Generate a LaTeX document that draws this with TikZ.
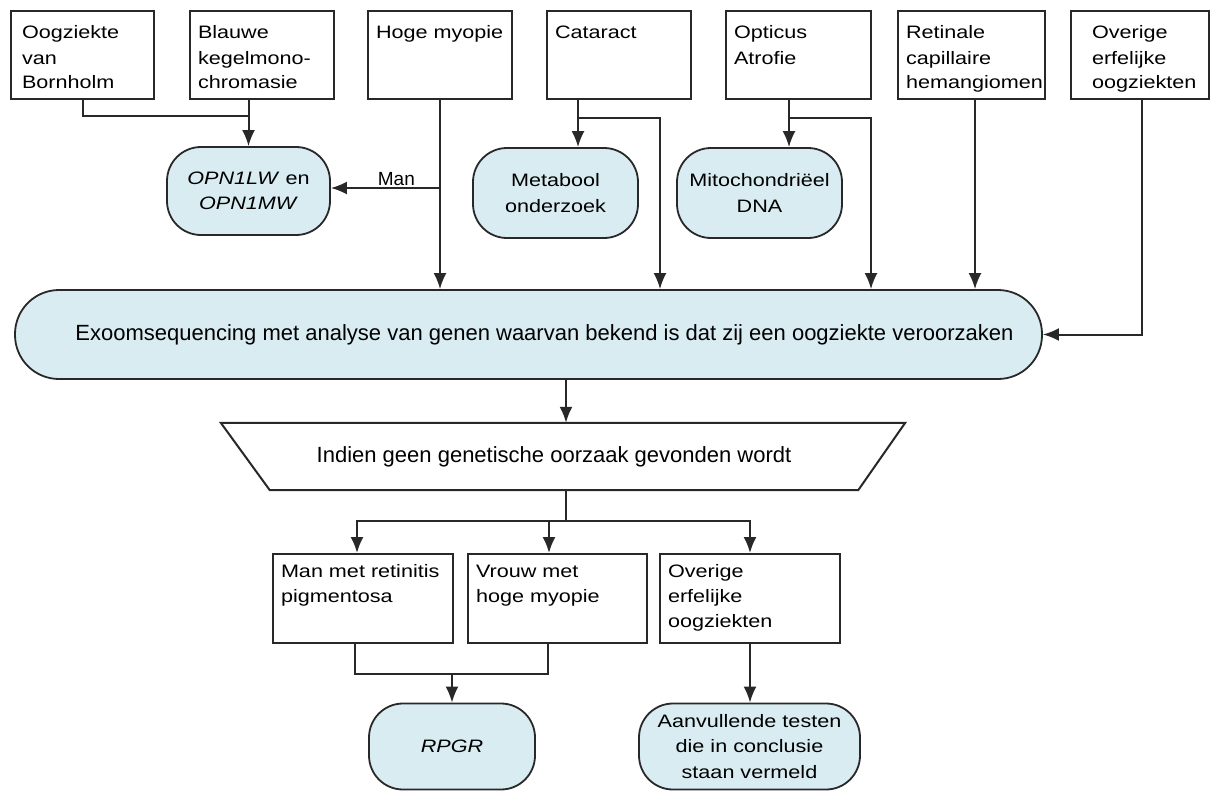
\documentclass[tikz,border=0pt]{standalone}
\usepackage{fontspec}
\setmainfont{Liberation Sans}
\newfontfamily\wfont[FakeStretch=1.2]{Liberation Sans}
\usetikzlibrary{arrows.meta,calc}
\definecolor{lb}{RGB}{216,236,242}
\definecolor{edge}{RGB}{40,40,40}
\newcommand{\tbx}[3]{\parbox[c][#1][t]{#2}{\raggedright #3}}
\begin{document}
\begin{tikzpicture}[x=1pt,y=-1pt,
  sq/.style={draw=edge, line width=2pt, fill=white, inner xsep=8pt, inner ysep=0pt, anchor=north west, font=\wfont\fontsize{18pt}{25pt}\selectfont},
  rnd/.style={draw=edge, line width=1.8pt, fill=lb, rounded corners=34pt, align=center, inner sep=0pt, font=\wfont\fontsize{18pt}{25.5pt}\selectfont},
  conn/.style={draw=edge, line width=2pt},
  arr/.style={conn, -{Latex[length=16pt,width=13pt]}},
]
\useasboundingbox (0,0) rectangle (1212,792);
% top boxes
\node[sq] (b1) at (10,10) {\tbx{88pt}{127pt}{\leftskip=3pt\rule{0pt}{28pt}Oogziekte\\van\\Bornholm}};
\node[sq] (b2) at (189,10) {\tbx{88pt}{128pt}{\rule{0pt}{28pt}Blauwe\\kegelmono-\\chromasie}};
\node[sq] (b3) at (367,10) {\tbx{88pt}{128pt}{\rule{0pt}{28pt}Hoge myopie}};
\node[sq] (b4) at (546,10) {\tbx{88pt}{128pt}{\rule{0pt}{28pt}Cataract}};
\node[sq] (b5) at (725,10) {\tbx{88pt}{129pt}{\rule{0pt}{28pt}Opticus\\Atrofie}};
\node[sq] (b6) at (897,10) {\tbx{88pt}{131pt}{\rule{0pt}{28pt}Retinale\\capillaire\\hemangiomen}};
\node[sq] (b7) at (1070,10) {\tbx{88pt}{122pt}{\leftskip=13pt\rule{0pt}{28pt}Overige\\erfelijke\\oogziekten}};
% rounded nodes
\node[rnd, minimum width=163pt, minimum height=88pt] (opn) at (248.5,191) {\textit{OPN1LW} en\\\textit{OPN1MW}};
\node[rnd, minimum width=165pt, minimum height=90pt] (met) at (555.5,193) {Metabool\\onderzoek};
\node[rnd, minimum width=165pt, minimum height=90pt] (mito) at (759.5,193) {Mitochondriëel\\DNA};
\node[rnd, rounded corners=44pt, minimum width=1027pt, minimum height=89pt, font=\fontsize{22pt}{25pt}\selectfont] (ex) at (528.5,334.5) {\hspace*{32pt}Exoomsequencing met analyse van genen waarvan bekend is dat zij een oogziekte veroorzaken};
% trapezium
\node[minimum width=684pt, minimum height=67pt, inner sep=0pt, font=\fontsize{22pt}{25pt}\selectfont] (tr) at (563,456.5) {\hspace*{-18pt}Indien geen genetische oorzaak gevonden wordt};
\draw[draw=edge, line width=2pt] (tr.north west) -- (tr.north east) -- ([xshift=-47pt]tr.south east) -- ([xshift=49pt]tr.south west) -- cycle;
% bottom boxes
\node[sq] (m1) at (272,553) {\tbx{89pt}{164pt}{\rule{0pt}{23pt}Man met retinitis\\pigmentosa}};
\node[sq] (m2) at (467,553) {\tbx{89pt}{163pt}{\rule{0pt}{23pt}Vrouw met\\hoge myopie}};
\node[sq] (m3) at (659,553) {\tbx{89pt}{164pt}{\rule{0pt}{23pt}Overige\\erfelijke\\oogziekten}};
\node[rnd, minimum width=166pt, minimum height=86pt] (rp) at (452,746.5) {\textit{RPGR}};
\node[rnd, minimum width=221pt, minimum height=86pt] (aan) at (749.5,746.5) {Aanvullende testen\\die in conclusie\\staan vermeld};
% connectors top
\draw[conn] (b1.south) |- (opn.north |- 0,116);
\draw[arr] (b2.south -| opn.north) -- (opn.north);
\draw[arr] (b3.south) -- (b3.south |- ex.north);
\coordinate (ma) at ([yshift=3pt]opn.east);
\draw[arr] (b3.south |- ma) -- node[above, pos=0.4, inner sep=1.5pt, font=\fontsize{19pt}{22pt}\selectfont] (man) {Man} (ma);
\coordinate (c4) at ([xshift=-41pt]b4.south);
\coordinate (c4r) at ([xshift=-32pt]b4.south east);
\draw[arr] (c4) -- (c4 |- met.north);
\draw[arr] ([yshift=-18pt]c4) -| (c4r |- ex.north);
\coordinate (c5) at ([xshift=-9.5pt]b5.south);
\coordinate (c5r) at ([xshift=-1pt]b5.south east);
\draw[arr] (c5) -- (c5 |- mito.north);
\draw[arr] ([yshift=-18pt]c5) -| (c5r |- ex.north);
\coordinate (c6) at ([xshift=3.5pt]b6.south);
\draw[arr] (c6) -- (c6 |- ex.north);
\draw[arr] ([xshift=2pt]b7.south) |- (ex.east);
% middle
\coordinate (e1) at ([xshift=37.5pt]ex.south);
\draw[arr] (e1) -- (e1 |- tr.north);
\coordinate (t1) at (e1 |- tr.south);
\coordinate (br) at ([yshift=-31pt]t1);
\draw[conn] (t1) -- (br);
\draw[arr] (br) -| ([xshift=-6pt]m1.north);
\draw[arr] (br) -| ([xshift=-8.5pt]m2.north);
\draw[arr] (br) -| (m3.north);
% bottom
\coordinate (ja) at ([xshift=-8pt,yshift=-30pt]m1.south);
\coordinate (jb) at ([xshift=-9.5pt,yshift=-30pt]m2.south);
\draw[conn] ([xshift=-8pt]m1.south) -- (ja) -- (jb) -- ([xshift=-9.5pt]m2.south);
\draw[arr] (ja -| rp.north) -- (rp.north);
\draw[arr] (m3.south |- m3.south) -- (m3.south |- aan.north);
\end{tikzpicture}
\end{document}
